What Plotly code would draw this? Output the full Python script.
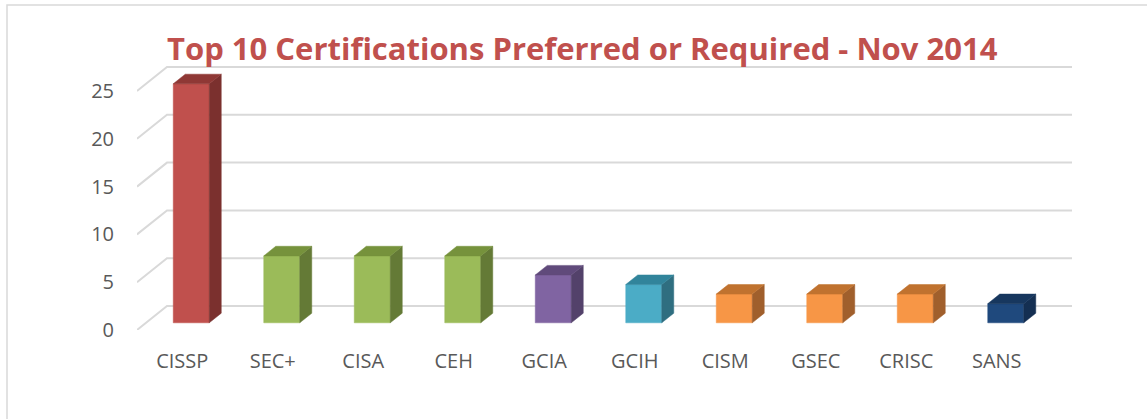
import plotly.graph_objects as go

certs = ["CISSP", "SEC+", "CISA", "CEH", "GCIA", "GCIH", "CISM", "GSEC", "CRISC", "SANS"]
counts = [25, 7, 7, 7, 5, 4, 3, 3, 3, 2]
front_colors = ["#C0504D", "#9BBB59", "#9BBB59", "#9BBB59", "#8064A2",
                "#4BACC6", "#F79646", "#F79646", "#F79646", "#1F497D"]
side_colors = ["#7B302E", "#647A36", "#647A36", "#647A36", "#53416A",
               "#2F6E80", "#A05F2C", "#A05F2C", "#A05F2C", "#142F52"]
top_colors = ["#8F3835", "#76923C", "#76923C", "#76923C", "#604A7B",
              "#31849B", "#C0722F", "#C0722F", "#C0722F", "#17375E"]
y_ticks = [0, 5, 10, 15, 20, 25]

# fake 3d: oblique depth offset of the floor, in axis units
depth_x = 30 / 90.5
depth_y = 24 / 9.56
bar_w = 36 / 90.5
front_at = 0.3   # bar front face sits 30% into the depth
bar_depth = 0.4

fig = go.Figure()

# back wall gridlines + side diagonals
gx, gy = [], []
for t in y_ticks:
    gx += [-0.5, -0.5 + depth_x, len(certs) - 0.5 + depth_x, None]
    gy += [t, t + depth_y, t + depth_y, None]
fig.add_trace(go.Scatter(x=gx, y=gy, mode="lines", line=dict(color="#D9D9D9", width=2),
                         hoverinfo="skip", showlegend=False))

base = front_at * depth_y
shift = front_at * depth_x
ddx = bar_depth * depth_x
ddy = bar_depth * depth_y


def face(xs, ys, color, name=None):
    fig.add_trace(go.Scatter(x=xs, y=ys, fill="toself", fillcolor=color, mode="lines",
                             line=dict(width=0.5, color=color), name=name,
                             hoverinfo="skip" if name is None else "name",
                             showlegend=False))


for i, v in enumerate(counts):
    xl = i + shift - bar_w / 2
    xr = i + shift + bar_w / 2
    top = base + v
    face([xl, xr, xr, xl, xl], [base, base, top, top, base], front_colors[i],
         f"{certs[i]}: {v}")
    face([xr, xr + ddx, xr + ddx, xr, xr], [base, base + ddy, top + ddy, top, base],
         side_colors[i])
    face([xl, xl + ddx, xr + ddx, xr, xl], [top, top + ddy, top + ddy, top, top],
         top_colors[i])

fig.update_layout(
    width=1147, height=419,
    margin=dict(l=137, r=75, t=60, b=89),
    paper_bgcolor="white", plot_bgcolor="white",
    font=dict(family="Open Sans", color="#595959", size=20),
    xaxis=dict(range=[-0.5, len(certs) - 0.5 + depth_x], tickvals=list(range(len(certs))),
               ticktext=certs, showgrid=False, zeroline=False, showline=False,
               ticklabelstandoff=17, fixedrange=True),
    yaxis=dict(range=[0, 270 / 9.56], tickvals=y_ticks, showgrid=False, zeroline=False,
               showline=False, ticklabelstandoff=22, fixedrange=True),
    shapes=[dict(type="rect", xref="paper", yref="paper", x0=-130 / 935, x1=1.2,
                 y0=-0.5, y1=(330 - 5) / 270, line=dict(color="#D9D9D9", width=1.5),
                 layer="below")],
    annotations=[dict(text="<b>Top 10 Certifications Preferred or Required - Nov 2014</b>",
                      xref="paper", yref="paper", x=(582 - 137) / 935, y=(330 - 48) / 270,
                      xanchor="center", yanchor="middle", showarrow=False,
                      font=dict(family="Open Sans", size=31, color="#C0504D"))],
)

fig.write_html("out.html", config={"displayModeBar": False},
               post_script="document.body.style.margin = '0';")
